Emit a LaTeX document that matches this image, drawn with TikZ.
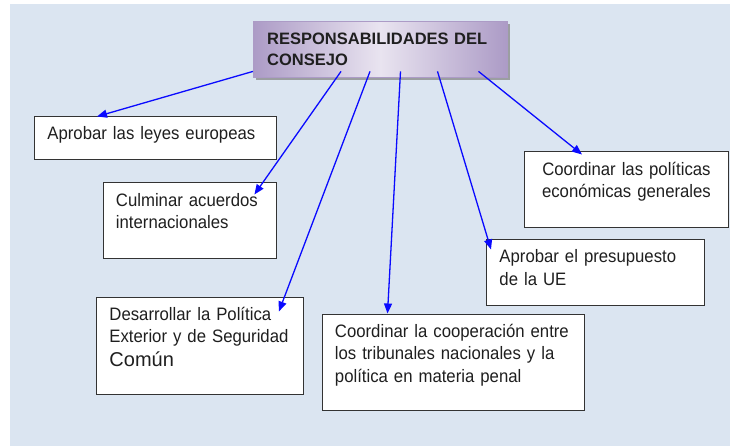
\documentclass[tikz,border=0pt]{standalone}
\usepackage{fontspec}
\setmainfont{Liberation Sans}
\newfontfamily\cajafont{Liberation Sans}[FakeStretch=0.93]
\usetikzlibrary{arrows.meta,shadows}
\definecolor{fondo}{RGB}{219,229,241}
\definecolor{lilaborde}{RGB}{172,155,198}
\definecolor{lilacentro}{RGB}{233,228,240}
\definecolor{azul}{RGB}{10,10,255}

\begin{document}
\begin{tikzpicture}[x=1pt,y=-1pt,
		caja/.style={draw=black!80,line width=0.9pt,fill=white,text=black!88,anchor=north west,align=left,inner xsep=13pt,inner ysep=0pt,font=\cajafont\fontsize{18}{22.5}\selectfont},
		flecha/.style={azul,line width=1.3pt,-{Triangle[length=10pt,width=8pt]}}]
		\useasboundingbox (0,0) rectangle (730,446);
		\fill[fondo] (10,4) rectangle (730,446);

		\node[anchor=north west,left color=lilaborde,right color=lilaborde,middle color=lilacentro,draw=lilaborde,
			drop shadow={shadow xshift=3pt,shadow yshift=-3pt,fill=black!50,opacity=0.7},
			inner xsep=14pt,inner ysep=0pt,text width=226pt,text height=23.3pt,text depth=32.7pt,align=left,text=black!88,
			font=\bfseries\fontsize{16.5}{20.7}\selectfont] (consejo) at (253,21) {RESPONSABILIDADES DEL\\CONSEJO};

		\node[caja,text width=216pt,text height=22.8pt,text depth=20.2pt] (leyes) at (34,116.5) {Aprobar las leyes europeas};
		\node[caja,text width=147pt,text height=23.2pt,text depth=51.8pt] (acuerdos) at (102.5,182.5) {Culminar acuerdos\\internacionales};
		\node[caja,text width=180.5pt,text height=23.5pt,text depth=74pt] (pesc) at (96,296.5) {Desarrollar la Política\\Exterior y de Seguridad\\[1.5pt]{\rmfamily\fontsize{20}{24}\selectfont Común}};
		\node[caja,text width=236.5pt,text height=23.2pt,text depth=73.3pt] (penal) at (321.5,313.5) {Coordinar la cooperación entre\\los tribunales nacionales y la\\política en materia penal};
		\node[caja,text width=191.5pt,text height=22.8pt,text depth=42.2pt] (presupuesto) at (486,239.5) {Aprobar el presupuesto\\de la UE};
		\node[caja,align=center,text width=178pt,text height=23.5pt,text depth=52.5pt] (economia) at (524,151.5) {Coordinar las políticas\\económicas generales};

		\draw[flecha] ([yshift=6pt]consejo.south west) -- ([xshift=63pt]leyes.north west);
		\draw[flecha] ([xshift=88pt,yshift=6pt]consejo.south west) -- ([xshift=-22pt,yshift=-12pt]acuerdos.north east);
		\draw[flecha] ([xshift=117pt,yshift=6pt]consejo.south west) -- ([xshift=-24.5pt,yshift=-15pt]pesc.north east);
		\draw[flecha] ([xshift=147.5pt,yshift=6pt]consejo.south west) -- ([xshift=66pt]penal.north west);
		\draw[flecha] ([xshift=184.5pt,yshift=6pt]consejo.south west) -- ([xshift=5pt,yshift=-10pt]presupuesto.north west);
		\draw[flecha] ([xshift=225.5pt,yshift=6pt]consejo.south west) -- ([xshift=58pt,yshift=-3pt]economia.north west);
	\end{tikzpicture}
\end{document}
